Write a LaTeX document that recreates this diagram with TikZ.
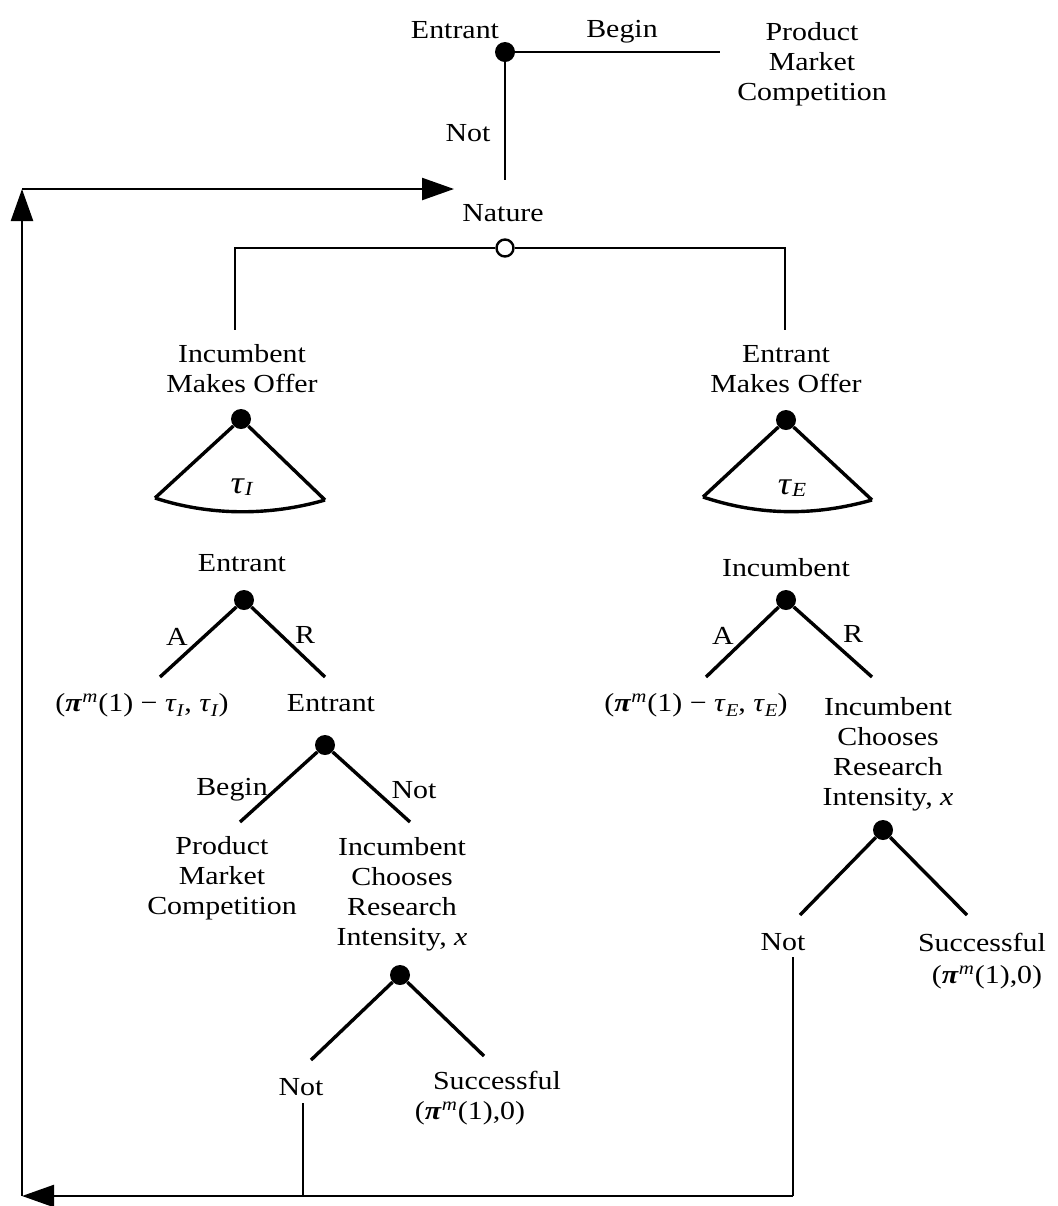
\documentclass[tikz,border=0pt]{standalone}
\usepackage{fontspec}
\setmainfont{Liberation Serif}[FakeStretch=1.15]
\usetikzlibrary{arrows.meta}
\newcommand{\Pim}{\textbf{\textit{π}}\textsuperscript{\textit{m}}}
\newcommand{\tauI}{\textit{τ}\raisebox{-0.45ex}{\fontsize{9}{9}\selectfont\textit{I}}}
\newcommand{\tauE}{\textit{τ}\raisebox{-0.45ex}{\fontsize{9}{9}\selectfont\textit{E}}}
\begin{document}
\begin{tikzpicture}[x=0.5pt,y=-0.5pt,
  tree/.style={line width=1.7pt},
  conn/.style={line width=1.1pt},
  loopline/.style={line width=1.2pt,-{Triangle[length=16pt,width=11pt]}},
  dotn/.style={circle,fill=black,inner sep=0pt,minimum size=10pt},
  opendot/.style={circle,draw,line width=1.2pt,fill=white,inner sep=0pt,minimum size=8.5pt},
  lbl/.style={inner sep=0pt,align=center},
  fanlbl/.style={inner sep=0pt,font=\fontsize{16}{16}\selectfont}]
\fontsize{13}{15}\selectfont
\useasboundingbox (0,0) rectangle (1057,1206);

% ---- top: entrant decision
\node[lbl] (entT) at (455,30) {Entrant};
\node[dotn] (d0) at (505,52) {};
\coordinate (c1) at (720,52);
\node[lbl] (beginT) at (622,32) {Begin};
\node[lbl] (pmcT) at (812,64) {Product\\Market\\Competition};
\coordinate (c2) at (505,180);
\node[lbl] (notT) at (468,133) {Not};
\draw[conn] (d0) -- (c1);
\draw[conn] (d0) -- (c2);

% ---- nature
\node[lbl] (natT) at (503,213) {Nature};
\node[opendot] (nat) at (505,248) {};
\coordinate (hl) at (235,248);
\coordinate (hr) at (785,248);
\coordinate (vl) at (235,330);
\coordinate (vr) at (785,330);
\draw[conn] (nat) -- (hl) -- (vl);
\draw[conn] (nat) -- (hr) -- (vr);

% ---- left offer fan
\node[lbl] (imo) at (242,369) {Incumbent\\Makes Offer};
\node[dotn] (dI) at (241,419) {};
\coordinate (fIl) at (155,498);
\coordinate (fIr) at (325,500);
\draw[tree] (fIl) -- (dI) -- (fIr);
\draw[tree] (fIl) .. controls (210,516) and (270,516) .. (fIr);
\node[fanlbl] (tI) at (242,487) {\textit{τ}\raisebox{-0.1ex}{\fontsize{10}{10}\selectfont\textit{I}}};

% ---- right offer fan
\node[lbl] (emo) at (786,369) {Entrant\\Makes Offer};
\node[dotn] (dE) at (786,420) {};
\coordinate (fEl) at (703,497);
\coordinate (fEr) at (872,500);
\draw[tree] (fEl) -- (dE) -- (fEr);
\draw[tree] (fEl) .. controls (760,516) and (815,516) .. (fEr);
\node[fanlbl] (tE) at (792,488) {\textit{τ}\raisebox{-0.1ex}{\fontsize{10}{10}\selectfont\textit{E}}};

% ---- left: entrant accepts / rejects
\node[lbl] (entA) at (242,563) {Entrant};
\node[dotn] (dA) at (244,600) {};
\coordinate (aL) at (160,677);
\coordinate (aR) at (325,677);
\draw[tree] (aL) -- (dA) -- (aR);
\node[lbl] (lA1) at (177,637) {A};
\node[lbl] (lR1) at (305,635) {R};
\node[lbl] (payI) at (142,705) {(\Pim(1) − \tauI, \tauI)};
\node[lbl] (entB) at (331,703) {Entrant};

% ---- left: entrant begin / not
\node[dotn] (dB) at (325,745) {};
\coordinate (bL) at (240,822);
\coordinate (bR) at (410,822);
\draw[tree] (bL) -- (dB) -- (bR);
\node[lbl] (lBeg) at (232,790) {Begin};
\node[lbl] (lNot) at (414,790) {Not};
\node[lbl] (pmcL) at (222,878) {Product\\Market\\Competition};
\node[lbl] (icrL) at (402,894) {Incumbent\\Chooses\\Research\\Intensity, \textit{x}};

% ---- left: research
\node[dotn] (dC) at (400,975) {};
\coordinate (cL) at (311,1060);
\coordinate (cR) at (484,1056);
\draw[tree] (cL) -- (dC) -- (cR);
\node[lbl] (notL) at (301,1087) {Not};
\node[lbl] (sucL) at (497,1080) {Successful};
\node[lbl] (paySL) at (470,1113) {(\Pim(1),0)};

% ---- right: incumbent accepts / rejects
\node[lbl] (incD) at (786,568) {Incumbent};
\node[dotn] (dD) at (786,600) {};
\coordinate (dL) at (706,677);
\coordinate (dR) at (872,677);
\draw[tree] (dL) -- (dD) -- (dR);
\node[lbl] (lA2) at (723,636) {A};
\node[lbl] (lR2) at (853,634) {R};
\node[lbl] (payE) at (696,705) {(\Pim(1) − \tauE, \tauE)};
\node[lbl] (icrR) at (888,754) {Incumbent\\Chooses\\Research\\Intensity, \textit{x}};

% ---- right: research
\node[dotn] (dF) at (883,830) {};
\coordinate (fL) at (800,915);
\coordinate (fR) at (967,915);
\draw[tree] (fL) -- (dF) -- (fR);
\node[lbl] (notR) at (783,942) {Not};
\node[lbl] (sucR) at (982,942) {Successful};
\node[lbl] (paySR) at (987,977) {(\Pim(1),0)};

% ---- loop back to nature
\coordinate (nL1) at (303,1103);
\coordinate (nL2) at (303,1196);
\coordinate (nR1) at (793,957);
\coordinate (nR2) at (793,1196);
\coordinate (bl) at (22,1196);
\coordinate (tl) at (22,189);
\coordinate (tip) at (454,189);
\draw[conn] (nL1) -- (nL2);
\draw[conn] (nR1) -- (nR2);
\draw[loopline] (nR2) -- (bl);
\draw[loopline] (bl) -- (tl);
\draw[loopline] (tl) -- (tip);
\end{tikzpicture}
\end{document}
